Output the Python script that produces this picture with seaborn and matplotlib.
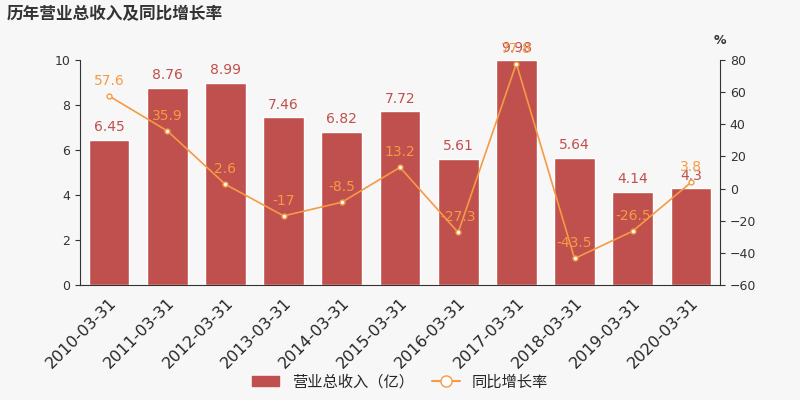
import pandas as pd
import numpy as np
import matplotlib.pyplot as plt
import seaborn as sns
from matplotlib.patches import Patch
from matplotlib.lines import Line2D

dates = ['2010-03-31', '2011-03-31', '2012-03-31', '2013-03-31', '2014-03-31', '2015-03-31',
         '2016-03-31', '2017-03-31', '2018-03-31', '2019-03-31', '2020-03-31']
revenue = [6.45, 8.76, 8.99, 7.46, 6.82, 7.72, 5.61, 9.98, 5.64, 4.14, 4.3]
growth = [57.6, 35.9, 2.6, -17, -8.5, 13.2, -27.3, 77.8, -43.5, -26.5, 3.8]

sns.set_style('white')
plt.rcParams['font.family'] = ['DejaVu Sans', 'Noto Sans CJK SC']
bg = '#f7f7f7'
bar_c = '#c0504d'
line_c = '#f59a45'

fig = plt.figure(figsize=(8, 4), dpi=100, facecolor=bg)
ax = fig.add_axes([0.1, 0.2875, 0.8, 0.5625], facecolor=bg)
df = pd.DataFrame({'date': dates, 'rev': revenue, 'g': growth})
sns.barplot(data=df, x='date', y='rev', color=bar_c, width=0.7, ax=ax, saturation=1)
ax.set_ylim(0, 10)
ax.set_xlim(-0.5, len(dates) - 0.5)
ax.set_xlabel('')
ax.set_ylabel('')
for i, v in enumerate(revenue):
    ax.text(i, v + 0.25, f'{v:g}', ha='center', va='bottom', color=bar_c, fontsize=10)
ax.tick_params(axis='x', labelrotation=45, labelsize=11.5)
for lab in ax.get_xticklabels():
    lab.set_ha('right')
    lab.set_rotation_mode('anchor')
ax.tick_params(axis='y', labelsize=9, colors='#333333')
for s in ['top', 'right']:
    ax.spines[s].set_visible(False)
ax.spines['left'].set_color('#333333')
ax.spines['bottom'].set_color('#333333')

ax2 = ax.twinx()
ax2.plot(range(len(dates)), growth, color=line_c, lw=1.2, marker='o', ms=3.5,
         mfc='white', mec=line_c)
ax2.set_ylim(-60, 80)
ax2.set_yticks(range(-60, 81, 20))
ax2.tick_params(axis='y', labelsize=9, colors='#333333')
for s in ['top', 'left', 'bottom']:
    ax2.spines[s].set_visible(False)
ax2.spines['right'].set_color('#333333')
for i, v in enumerate(growth):
    ax2.text(i, v + 5, f'{v:g}', ha='center', va='bottom', color=line_c, fontsize=10)
fig.text(0.9, 0.89, '%', fontsize=9, ha='center', color='#333333', fontweight='bold')

fig.text(0.008, 0.965, '历年营业总收入及同比增长率', fontsize=12, fontweight='bold',
         color='#333333', va='center', family=['Noto Sans CJK SC'])

handles = [Patch(color=bar_c, label='营业总收入（亿）'),
           Line2D([], [], color=line_c, marker='o', mfc='white', ms=8, label='同比增长率')]
fig.legend(handles=handles, loc='lower center', bbox_to_anchor=(0.5, -0.01), ncol=2,
           frameon=False, handlelength=1.8, columnspacing=1.2,
           prop={'family': ['Noto Sans CJK SC'], 'size': 11})

fig.savefig('out.png', facecolor=bg)
